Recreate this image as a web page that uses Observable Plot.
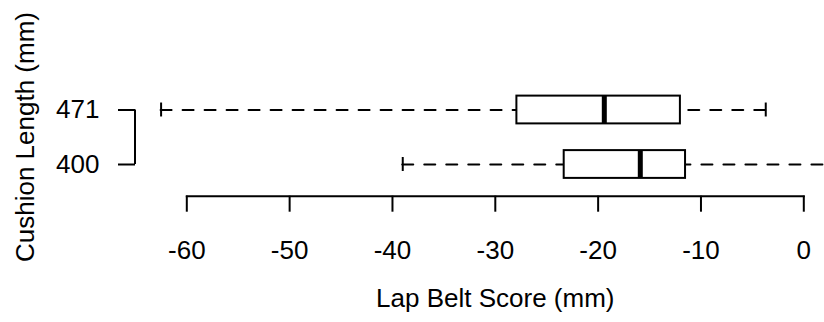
<!DOCTYPE html>
<html>
<head>
<meta charset="utf-8">
<script src="https://cdn.jsdelivr.net/npm/d3@7"></script>
<script src="https://cdn.jsdelivr.net/npm/@observablehq/plot@0.6"></script>
<style>
  html, body { margin: 0; padding: 0; background: #fff; }
  svg { display: block; }
</style>
</head>
<body>
<script>
// Lap belt score by cushion length: five-number summaries per group
const groups    = ["400", "471"];
const positions = [1, 2];
const whiskLo   = [-39.0, -62.5];
const q1        = [-23.3, -27.9];
const median    = [-15.9, -19.4];
const q3        = [-11.5, -12.0];
const whiskHi   = [4.0, -3.7];
const xTicks    = [-60, -50, -40, -30, -20, -10, 0];

const xTitle = "Lap Belt Score (mm)";
const yTitle = "Cushion Length (mm)";

const stats = groups.map((g, i) => ({
  group: g, pos: positions[i],
  lo: whiskLo[i], q1: q1[i], med: median[i], q3: q3[i], hi: whiskHi[i]
}));

const boxHalf = 0.255;    // half box height, in y units
const stapleHalf = 0.128; // half whisker-cap height
const yAxisDx = -51.3;    // y axis sits left of the frame
const font = "Liberation Sans, Arial, Helvetica, sans-serif";
const fs = 26;

// vertical line of the y axis, spanning the two groups
function yAxisLine(index, scales, values, dimensions) {
  const x = dimensions.marginLeft + yAxisDx;
  const line = document.createElementNS("http://www.w3.org/2000/svg", "line");
  line.setAttribute("x1", x);
  line.setAttribute("x2", x);
  line.setAttribute("y1", scales.y(positions[0]));
  line.setAttribute("y2", scales.y(positions[positions.length - 1]));
  line.setAttribute("stroke", "black");
  line.setAttribute("stroke-width", 2);
  return line;
}

const chart = Plot.plot({
  width: 824,
  height: 322,
  marginLeft: 186.3,
  marginRight: 20.7,
  marginTop: 77.3,
  marginBottom: 126.3,
  style: { fontFamily: font, fontSize: fs + "px", background: "white", color: "black" },
  x: { domain: [-60, 0] },
  y: { domain: [1, 2], range: [164, 109.5] },
  marks: [
    // dashed whiskers, drawn from the whisker end toward the box
    Plot.ruleY(stats, { y: "pos", x1: "lo", x2: "q1", stroke: "black", strokeWidth: 2,
      strokeDasharray: "11,11", strokeLinecap: "round" }),
    Plot.ruleY(stats, { y: "pos", x1: "hi", x2: "q3", stroke: "black", strokeWidth: 2,
      strokeDasharray: "11,11", strokeLinecap: "round" }),
    // whisker caps
    Plot.ruleX(stats, { x: "lo", y1: d => d.pos - stapleHalf, y2: d => d.pos + stapleHalf,
      stroke: "black", strokeWidth: 2 }),
    Plot.ruleX(stats, { x: "hi", y1: d => d.pos - stapleHalf, y2: d => d.pos + stapleHalf,
      stroke: "black", strokeWidth: 2 }),
    // boxes
    Plot.rect(stats, { x1: "q1", x2: "q3", y1: d => d.pos - boxHalf, y2: d => d.pos + boxHalf,
      fill: "white", stroke: "black", strokeWidth: 2 }),
    // medians
    Plot.ruleX(stats, { x: "med", y1: d => d.pos - boxHalf, y2: d => d.pos + boxHalf,
      stroke: "black", strokeWidth: 5 }),
    // x axis
    Plot.frame({ anchor: "bottom", stroke: "black", strokeWidth: 2 }),
    Plot.axisX({ ticks: xTicks, tickSize: 16, tickPadding: 28, strokeWidth: 2,
      fontSize: fs, label: null, tickFormat: d => String(d) }),
    Plot.text([xTitle], { frameAnchor: "bottom", dy: 111, fontSize: fs, fill: "black" }),
    // y axis
    yAxisLine,
    Plot.axisY({ ticks: positions, tickFormat: d => groups[positions.indexOf(d)],
      tickSize: 17, tickPadding: 19, dx: yAxisDx, strokeWidth: 2, fontSize: fs, label: null }),
    Plot.text([yTitle], { frameAnchor: "left", textAnchor: "middle", dx: -161.6, rotate: -90,
      fontSize: fs, fill: "black" })
  ]
});

document.body.appendChild(chart);
</script>
</body>
</html>
